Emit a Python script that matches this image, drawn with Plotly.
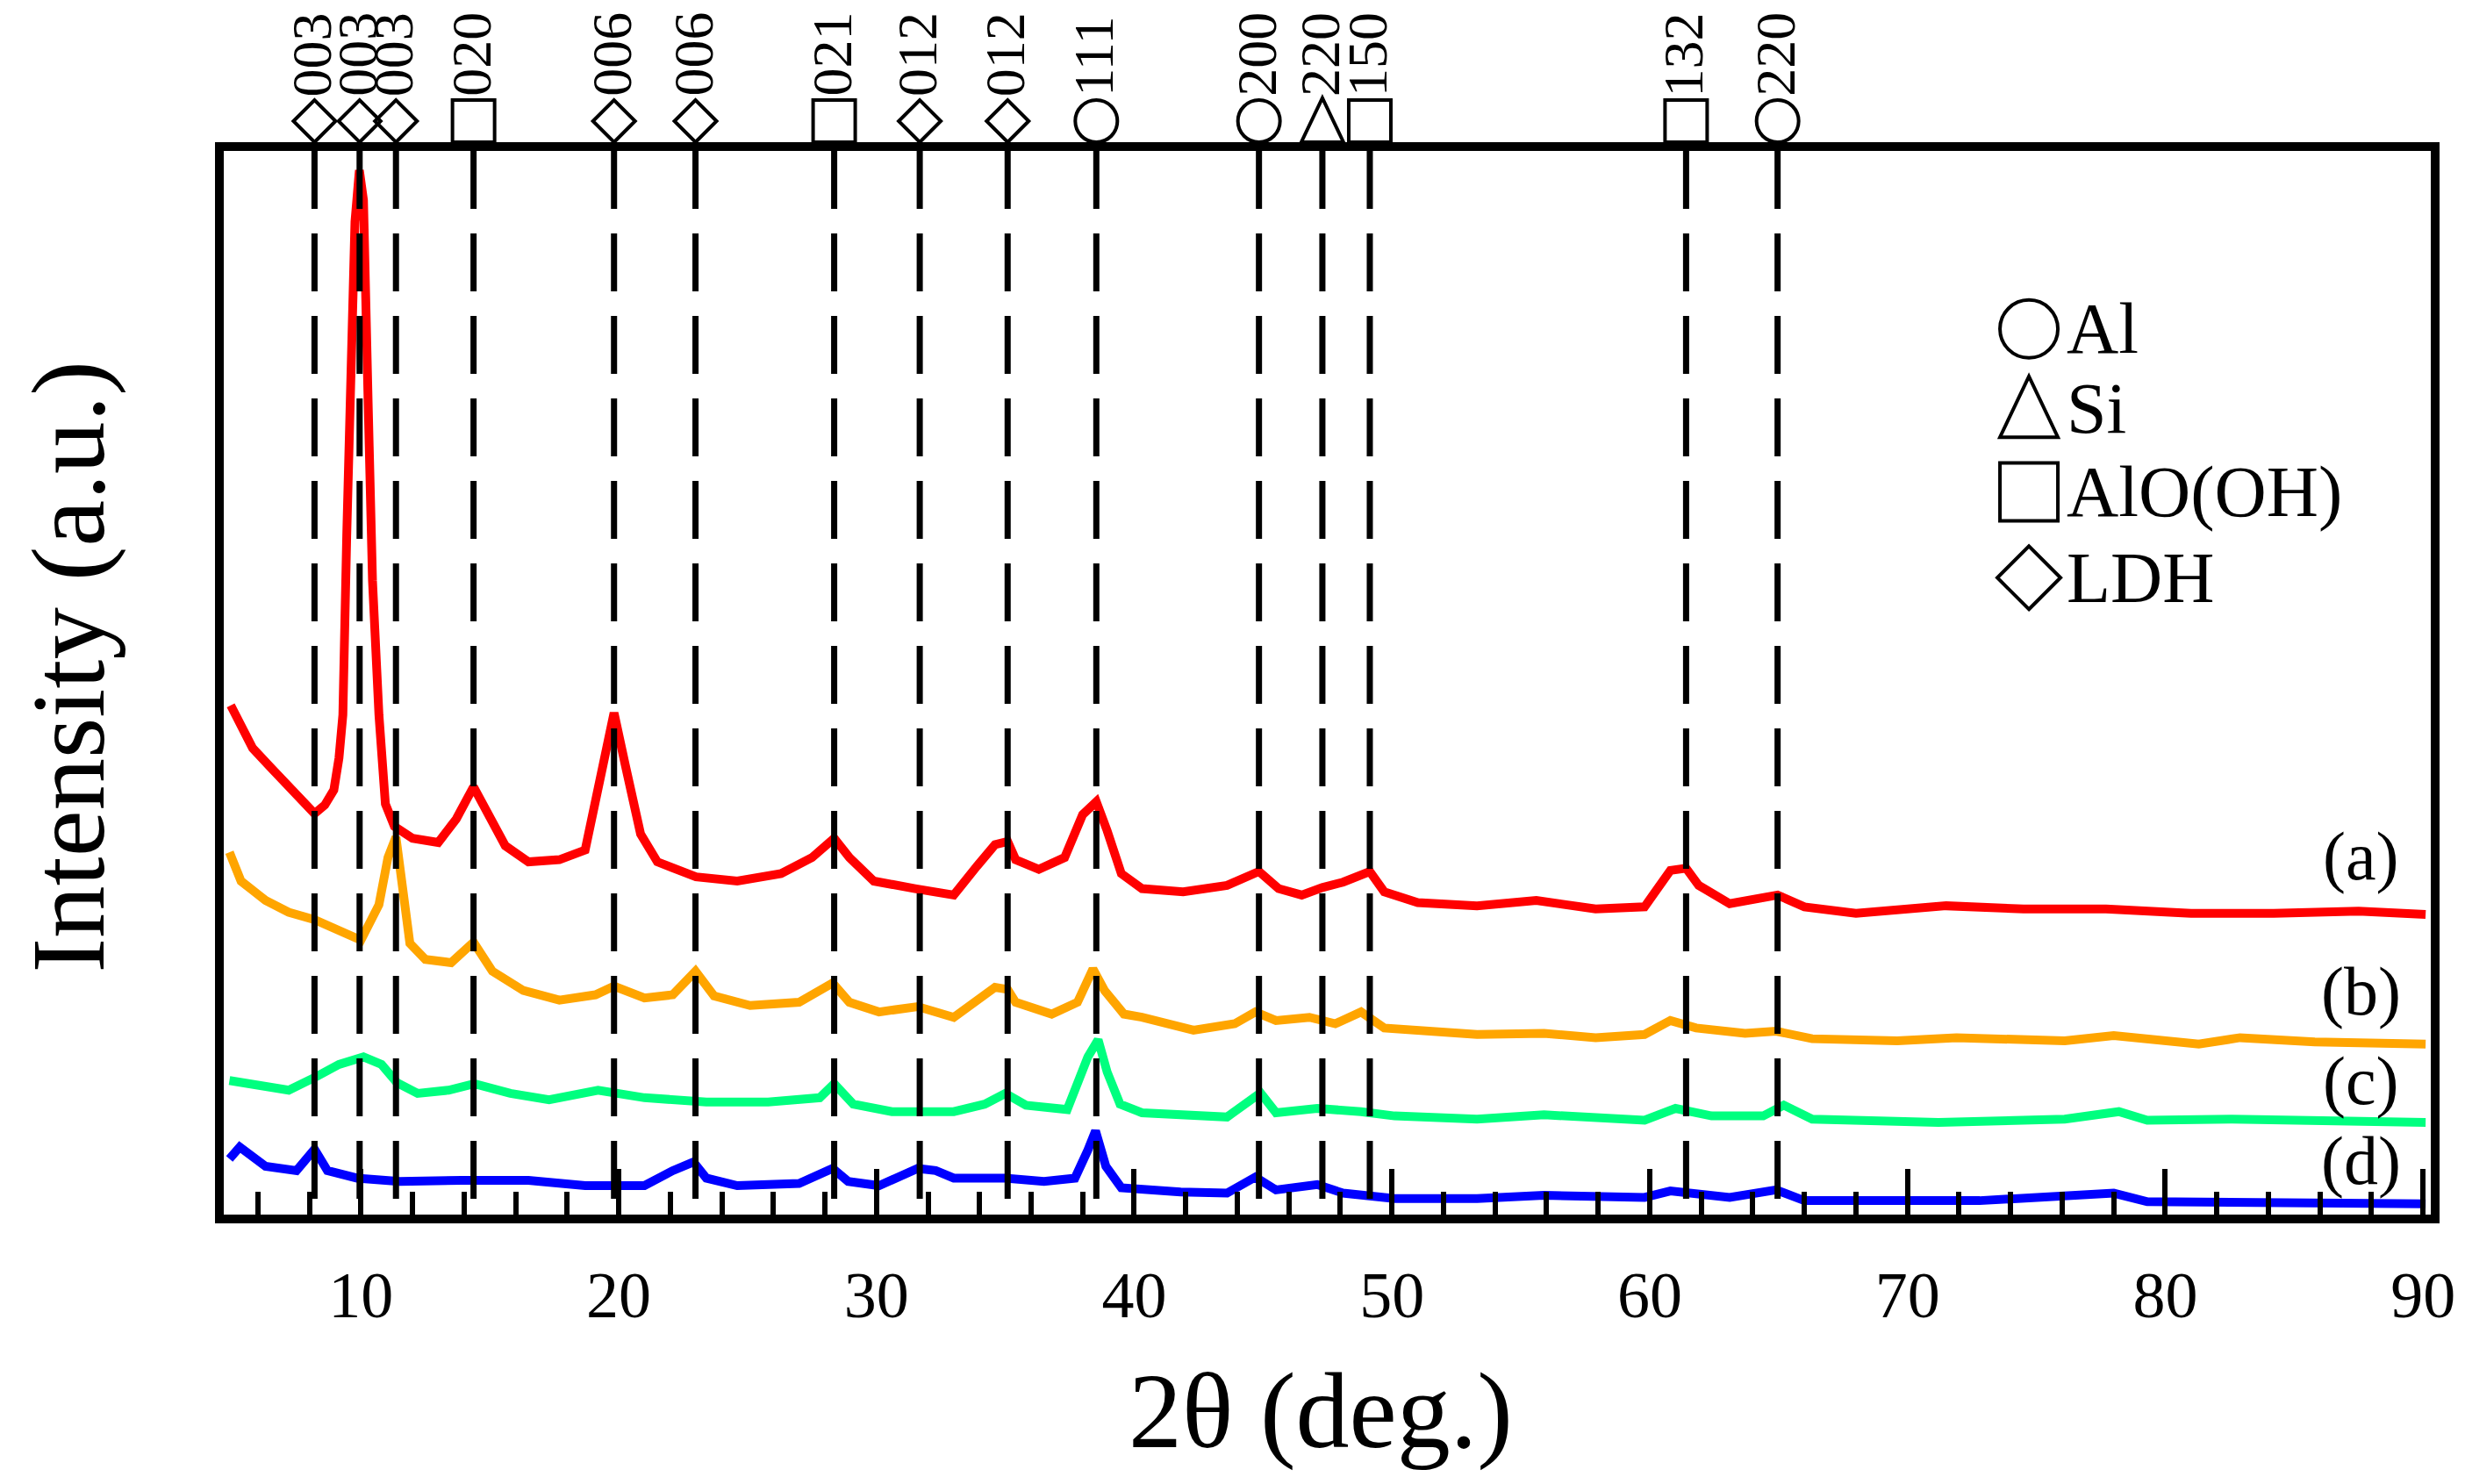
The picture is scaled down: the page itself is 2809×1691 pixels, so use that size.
import plotly.graph_objects as go

# XRD patterns (2theta in deg., intensity in a.u.)
tt_a = [4.95, 5.3, 5.8, 6.5, 7.2, 7.9, 8.2, 8.6, 8.95, 9.15, 9.3, 9.45, 9.6, 9.77, 9.94,
        10.1, 10.28, 10.45, 10.7, 10.95, 11.3, 12.0, 13.0, 13.7, 14.37, 14.9, 15.6, 16.5,
        17.7, 18.7, 19.3, 19.82, 20.25, 20.85, 21.5, 23.0, 24.6, 26.3, 27.5, 28.36, 28.95,
        29.9, 31.5, 33.0, 33.9, 34.6, 35.09, 35.4, 36.3, 37.3, 38.0, 38.53, 38.95, 39.5,
        40.3, 41.9, 43.6, 44.4, 44.84, 45.6, 46.5, 47.3, 48.1, 49.14, 49.7, 51.0, 53.3,
        55.6, 57.9, 59.8, 60.8, 61.41, 61.9, 63.1, 64.96, 66.0, 68.0, 71.5, 74.5, 77.7,
        81.0, 84.2, 87.5, 90.1]
int_a = [47.9, 46.1, 43.9, 42.1, 40.4, 38.6, 37.8, 38.6, 40.0, 43.0, 47.0, 63.7, 80.4, 93.0, 97.8,
         95.0, 76.2, 59.5, 47.0, 38.7, 36.6, 35.5, 35.1, 37.3, 40.3, 38.1, 34.8, 33.3,
         33.5, 34.4, 41.7, 47.2, 42.4, 35.9, 33.3, 31.9, 31.5, 32.2, 33.7, 35.5, 33.7,
         31.5, 30.8, 30.2, 32.9, 34.9, 35.2, 33.5, 32.6, 33.7, 37.7, 38.9, 36.2, 32.2,
         30.8, 30.5, 31.1, 32.0, 32.4, 30.8, 30.2, 30.9, 31.4, 32.4, 30.5, 29.5, 29.2,
         29.7, 28.9, 29.1, 32.5, 32.7, 31.1, 29.4, 30.2, 29.1, 28.5, 29.2, 28.9, 28.9,
         28.5, 28.5, 28.7, 28.4]

tt_b = [4.9, 5.35, 6.3, 7.2, 8.2, 9.15, 10.0, 10.7, 11.05, 11.36, 11.55, 11.9, 12.5, 13.5,
        14.37, 15.1, 16.3, 17.7, 19.1, 19.82, 21.0, 22.1, 22.98, 23.7, 25.1, 27.0, 28.3,
        28.95, 30.1, 31.6, 33.0, 34.6, 35.09, 35.4, 36.8, 37.8, 38.4, 38.85, 39.6, 40.3,
        42.3, 43.9, 44.7, 45.5, 46.8, 47.8, 48.8, 49.7, 53.3, 55.9, 57.9, 59.8, 60.8, 61.8,
        63.7, 64.9, 66.3, 69.6, 71.9, 76.1, 78.0, 81.3, 82.9, 85.8, 90.1]
int_b = [34.2, 31.5, 29.7, 28.6, 27.9, 26.8, 26.0, 29.3, 33.7, 35.6, 31.5, 25.7, 24.2, 23.9,
         25.8, 23.1, 21.3, 20.4, 20.9, 21.7, 20.6, 20.9, 23.1, 20.8, 19.9, 20.2, 22.0,
         20.2, 19.3, 19.8, 18.8, 21.6, 21.4, 20.2, 19.1, 20.2, 23.3, 21.3, 19.1, 18.8,
         17.6, 18.2, 19.3, 18.5, 18.8, 18.2, 19.3, 17.8, 17.2, 17.3, 16.9, 17.2, 18.5, 17.8,
         17.3, 17.5, 16.8, 16.6, 16.9, 16.6, 17.1, 16.3, 16.9, 16.5, 16.3]

tt_c = [4.9, 5.85, 7.2, 8.3, 9.15, 10.1, 10.8, 11.4, 12.2, 13.4, 14.4, 15.8, 17.3, 19.2,
        21.0, 23.4, 25.8, 27.8, 28.36, 29.1, 30.6, 33.0, 34.2, 35.0, 35.8, 37.4, 38.2,
        38.6, 38.95, 39.45, 40.3, 43.6, 44.9, 45.5, 47.1, 48.8, 50.1, 53.3, 55.9, 59.8,
        61.0, 62.4, 64.4, 65.2, 66.3, 71.2, 76.1, 78.2, 79.3, 82.6, 90.1]
int_c = [12.9, 12.6, 12.0, 13.3, 14.4, 15.1, 14.4, 12.7, 11.7, 12.0, 12.6, 11.7, 11.1, 12.0,
         11.3, 10.9, 10.9, 11.3, 12.6, 10.7, 10.0, 10.0, 10.7, 11.7, 10.6, 10.2, 15.1,
         16.7, 13.7, 10.7, 9.9, 9.5, 11.75, 9.9, 10.3, 10.0, 9.6, 9.3, 9.7, 9.2,
         10.3, 9.6, 9.6, 10.6, 9.3, 9.0, 9.3, 10.0, 9.2, 9.3, 9.0]

tt_d = [4.9, 5.3, 6.3, 7.5, 8.2, 8.7, 9.85, 11.5, 13.9, 16.5, 18.7, 21.0, 22.1, 22.9, 23.4,
        24.6, 27.0, 28.3, 28.9, 30.1, 31.6, 32.3, 33.0, 35.0, 36.5, 37.7, 38.2, 38.5, 38.9,
        39.5, 41.8, 43.6, 44.7, 45.5, 47.1, 48.1, 50.1, 53.3, 55.9, 59.8, 60.8, 63.1, 64.9,
        66.0, 72.8, 78.0, 79.3, 90.1]
int_d = [5.6, 6.7, 4.9, 4.5, 6.5, 4.5, 3.8, 3.5, 3.6, 3.6, 3.1, 3.1, 4.5, 5.3, 3.8,
         3.1, 3.3, 4.7, 3.5, 3.1, 4.7, 4.5, 3.8, 3.8, 3.5, 3.8, 6.4, 8.2, 4.9,
         2.9, 2.5, 2.4, 3.9, 2.7, 3.2, 2.4, 1.9, 1.9, 2.2, 2.0, 2.6, 2.0, 2.7,
         1.7, 1.7, 2.4, 1.6, 1.4]

series = [
    ("(a)", tt_a, int_a, "#ff0000", 33.8),
    ("(b)", tt_b, int_b, "#ffa500", 21.2),
    ("(c)", tt_c, int_c, "#00ff7f", 12.9),
    ("(d)", tt_d, int_d, "#0000ff", 5.4),
]

# reference peak positions
peak_pos = [8.2, 9.95, 11.36, 14.37, 19.82, 22.98, 28.36, 31.68, 35.09, 38.53,
            44.84, 47.30, 49.14, 61.41, 64.96]
peak_hkl = ["003", "003", "003", "020", "006", "006", "021", "012", "012", "111",
            "200", "220", "150", "132", "220"]
peak_phase = ["LDH", "LDH", "LDH", "AlO(OH)", "LDH", "LDH", "AlO(OH)", "LDH", "LDH", "Al",
              "Al", "Si", "AlO(OH)", "AlO(OH)", "Al"]

phases = ["Al", "Si", "AlO(OH)", "LDH"]

FONT = "Liberation Serif"
BLACK = dict(color="black", width=4)


def symbol_shape(ph, x, y, xref, yref, half, base):
    # open symbol drawn in pixels around an anchor point
    common = dict(xref=xref, yref=yref, xsizemode="pixel", ysizemode="pixel",
                  xanchor=x, yanchor=y, line=BLACK, layer="above")
    h = half
    if ph == "Al":
        return dict(type="circle", x0=-h, x1=h, y0=base, y1=base + 2 * h, **common)
    if ph == "AlO(OH)":
        return dict(type="rect", x0=-h, x1=h, y0=base, y1=base + 2 * h, **common)
    if ph == "LDH":
        return dict(type="path", path=f"M0,{base} L{h},{base + h} L0,{base + 2 * h} L{-h},{base + h} Z",
                    **common)
    return dict(type="path", path=f"M{-h},{base} L{h},{base} L0,{base + 2.1 * h} Z", **common)


fig = go.Figure()

for name, xs, ys, col, ylab in series:
    fig.add_trace(go.Scatter(x=xs, y=ys, mode="lines", line=dict(color=col, width=10),
                             showlegend=False, hoverinfo="skip"))
    fig.add_annotation(x=87.6, y=ylab, text=name, showarrow=False,
                       font=dict(family=FONT, size=78, color="black"))

# dashed reference lines
for p in peak_pos:
    fig.add_shape(type="line", xref="x", yref="paper", x0=p, x1=p, y0=1, y1=0,
                  line=dict(color="black", width=7, dash="66px,28px"))

# phase symbols on the top frame + Miller indices
for p, ph, h in zip(peak_pos, peak_phase, peak_hkl):
    fig.add_shape(**symbol_shape(ph, p, 1, "x", "paper", 24, 10))
    fig.add_annotation(x=p, y=1, xref="x", yref="paper", text=h, textangle=-90,
                       showarrow=False, yanchor="bottom", xanchor="center",
                       yshift=60, xshift=-3,
                       font=dict(family=FONT, size=64, color="black"))

# legend drawn inside the plot
leg_x = 74.71
leg_y = [83.0, 75.6, 67.8, 59.8]
for ph, ly in zip(phases, leg_y):
    half = 36 if ph == "LDH" else 33
    fig.add_shape(**symbol_shape(ph, leg_x, ly, "x", "y", half, -half))
    fig.add_annotation(x=76.1, y=ly, text=ph, showarrow=False, xanchor="left",
                       font=dict(family=FONT, size=82, color="black"))

# axis titles
fig.add_annotation(x=0.497, y=-0.185, xref="paper", yref="paper", text="2θ (deg.)",
                   xanchor="center", yanchor="middle", showarrow=False,
                   font=dict(family=FONT, size=122, color="black"))
fig.add_annotation(x=-0.0705, y=0.515, xref="paper", yref="paper", text="Intensity (a.u.)",
                   textangle=-90, xanchor="center", yanchor="middle", showarrow=False,
                   font=dict(family=FONT, size=119, color="black"))

fig.update_xaxes(range=[4.68, 90.3], showline=True, linewidth=10, linecolor="black",
                 mirror=True, showgrid=False, zeroline=False,
                 ticks="inside", ticklen=52, tickwidth=6, tickcolor="black",
                 dtick=10, tick0=0, ticklabelstandoff=18,
                 tickfont=dict(family=FONT, size=74, color="black"),
                 minor=dict(ticks="inside", ticklen=26, tickwidth=6, tickcolor="black",
                            dtick=2, tick0=0, showgrid=False))
fig.update_yaxes(range=[0.4, 99.6], showline=True, linewidth=10, linecolor="black",
                 mirror=True, showgrid=False, zeroline=False, ticks="",
                 showticklabels=False)

fig.update_layout(width=2809, height=1691, plot_bgcolor="white", paper_bgcolor="white",
                  margin=dict(l=247, r=47, t=164, b=315, autoexpand=False),
                  showlegend=False)

fig.write_html("out.html")
